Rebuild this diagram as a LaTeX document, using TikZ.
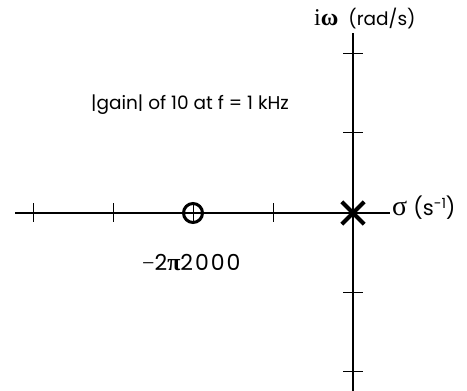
\documentclass[tikz,border=0pt]{standalone}
\usepackage{fontspec}
\setmainfont{Poppins}
\newfontfamily\grk{Liberation Serif}
\newcommand{\gk}[1]{{\grk\fontsize{24}{26}\selectfont #1}}
\begin{document}
\begin{tikzpicture}[x=1pt,y=-1pt,
  axis/.style={line width=2pt},
  tick/.style={line width=1pt},
  lbl/.style={inner sep=0pt, font=\fontsize{18.5}{22}\selectfont}]
\useasboundingbox (0,0) rectangle (467,391);
% axes
\coordinate (xl) at (15,213);
\coordinate (xr) at (390,213);
\coordinate (yt) at (353,33);
\coordinate (yb) at (353,391);
\draw[axis] (xl) -- (xr);
\draw[axis] (yt) -- (yb);
% ticks on sigma axis
\foreach \x in {33,113,273} \draw[tick] (\x,203) -- (\x,222);
\draw[tick] (193,203) -- (193,222);
% ticks on omega axis
\foreach \y in {53,132,292,371} \draw[tick] (343,\y) -- (363,\y);
% zero
\node[circle, draw, line width=3pt, minimum size=19pt, inner sep=0pt] (zero) at (193,213) {};
% pole
\node[inner sep=0pt, minimum size=22pt] (pole) at (353,213) {};
\draw[line width=4pt] (pole.north west) -- (pole.south east);
\draw[line width=4pt] (pole.north east) -- (pole.south west);
% labels
\node[lbl, anchor=base west, font=\fontsize{21}{24}\selectfont] (sig) at (392,215) {{\grk\fontsize{28}{30}\selectfont σ}\hspace{6pt}(s\raisebox{7pt}{\fontsize{14}{16}\selectfont -1})};
\node[lbl, anchor=base west] (om) at (314,25) {\gk{i\bfseries ω}\hspace{10pt}(rad/s)};
\node[lbl] (gain) at (190,105) {|gain| of 10 at f = 1 kHz};
\node[lbl, anchor=base west, font=\fontsize{22}{26}\selectfont] (zlab) at (142,270) {\addfontfeatures{LetterSpace=9}{\grk −}2\gk{\bfseries π}2000};
\end{tikzpicture}
\end{document}
